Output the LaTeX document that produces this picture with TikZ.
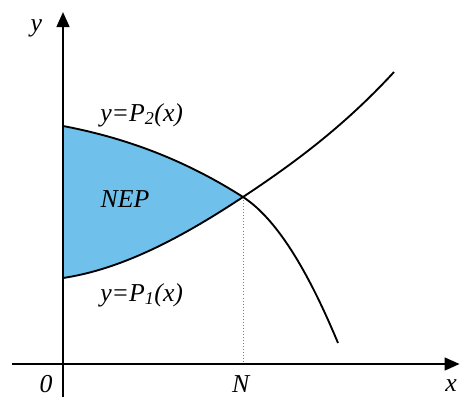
\documentclass[tikz,border=0pt]{standalone}
\usepackage{fontspec}
\setmainfont{Liberation Serif}
\usetikzlibrary{arrows.meta}
\definecolor{nepblue}{RGB}{112,192,236}

\begin{document}
\begin{tikzpicture}[
  axis/.style={line width=2pt, -{Triangle[length=4.5mm, width=3.8mm]}},
  curve/.style={line width=1.6pt},
  guide/.style={dotted, gray, line width=0.6pt},
  lbl/.style={font=\fontsize{22}{25}\selectfont\itshape, inner sep=0pt}
]
\useasboundingbox (-1.89,-0.99) rectangle (11.91,10.92);

\coordinate (O)  at (0,0);
\coordinate (xl) at (-1.53,0);
\coordinate (xr) at (11.90,0);
\coordinate (yb) at (0,-0.99);
\coordinate (yt) at (0,10.56);
\coordinate (N)  at (5.4,5.01);
\coordinate (Nx) at (5.4,0);
\coordinate (A2) at (0,7.14);
\coordinate (B2) at (8.25,0.63);
\coordinate (A1) at (0,2.58);
\coordinate (B1) at (9.93,8.76);

% region between the curves
\fill[nepblue] (A2) .. controls (1.8,6.80) and (3.6,6.16) .. (N)
               .. controls (3.6,3.82) and (1.8,2.85) .. (A1) -- cycle;

\draw[guide] (N) -- (Nx);

\draw[curve] (A2) .. controls (1.8,6.80) and (3.6,6.16) .. (N)
                  .. controls (6.5,4.30) and (7.45,2.55) .. (B2);
\draw[curve] (A1) .. controls (1.8,2.85) and (3.6,3.82) .. (N)
                  .. controls (6.91,6.01) and (8.42,7.12) .. (B1);

\draw[axis] (xl) -- (xr);
\draw[axis] (yb) -- (yt);

\node[lbl] (ylab) at (-0.80,10.08) {y};
\node[lbl] (xlab) at (11.64,-0.66) {x};
\node[lbl] (olab) at (-0.51,-0.60) {0};
\node[lbl] (nlab) at (5.33,-0.60) {N};
\node[lbl] (nep)  at (1.86,4.95) {NEP};
\node[lbl] (p2)   at (2.36,7.47) {y=P\textsubscript{2}(x)};
\node[lbl] (p1)   at (2.36,2.07) {y=P\textsubscript{1}(x)};

\end{tikzpicture}
\end{document}
